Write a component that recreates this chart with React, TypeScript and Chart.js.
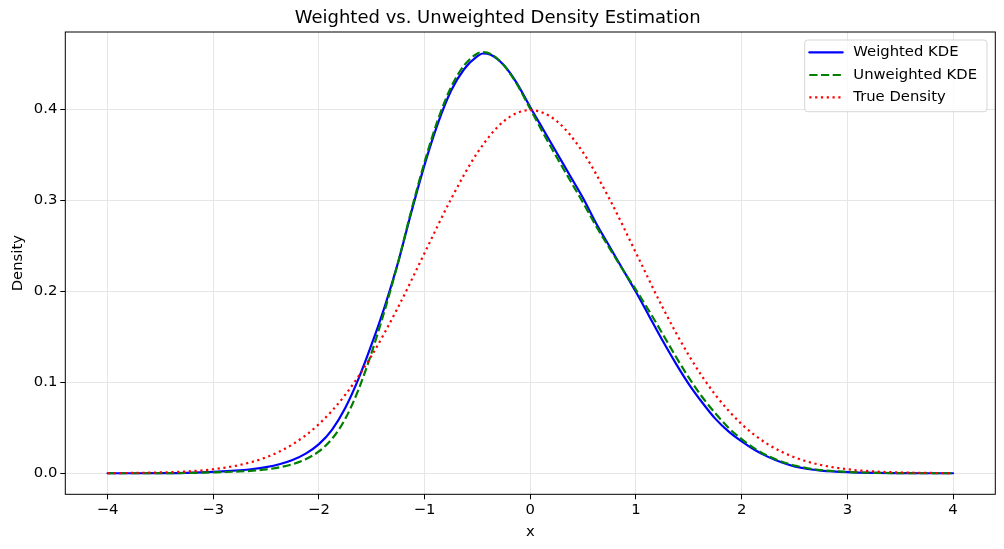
import React, { useEffect, useRef } from "react";
import { Chart, registerables } from "chart.js";

Chart.register(...registerables);

const chartTitle = "Weighted vs. Unweighted Density Estimation";
const xAxisLabel = "x";
const yAxisLabel = "Density";
const seriesLabels = ["Weighted KDE", "Unweighted KDE", "True Density"];

const xValues = [
  -4, -3.75, -3.5, -3.25, -3, -2.75, -2.5, -2.25, -2, -1.75, -1.5, -1.25, -1,
  -0.75, -0.5, -0.25, 0, 0.25, 0.5, 0.75, 1, 1.25, 1.5, 1.75, 2, 2.25, 2.5,
  2.75, 3, 3.25, 3.5, 3.75, 4,
];

const trueDensity = [
  0.0001, 0.0004, 0.0009, 0.002, 0.0044, 0.0091, 0.0175, 0.0317, 0.054,
  0.0863, 0.1295, 0.1826, 0.242, 0.3011, 0.3521, 0.3867, 0.3989, 0.3867,
  0.3521, 0.3011, 0.242, 0.1826, 0.1295, 0.0863, 0.054, 0.0317, 0.0175,
  0.0091, 0.0044, 0.002, 0.0009, 0.0004, 0.0001,
];

const kdeXValues = [
  -4, -3.75, -3.5, -3.25, -3, -2.75,
  -2.625, -2.5, -2.375, -2.25, -2.125, -2, -1.875, -1.75, -1.625, -1.5, -1.375,
  -1.25, -1.125, -1, -0.875, -0.75, -0.625, -0.5,
  -0.45,
  -0.375, -0.25, -0.125, 0, 0.125, 0.25, 0.375, 0.5, 0.625, 0.75, 0.875, 1,
  1.125, 1.25, 1.375, 1.5, 1.625, 1.75, 1.875, 2, 2.125, 2.25, 2.375, 2.5,
  2.625, 2.75,
  3, 3.25, 3.5, 3.75, 4,
];

const weightedKde = [
  0.0, 0.0, 0.0001, 0.0005, 0.0015, 0.0033,
  0.0047, 0.0068, 0.0099, 0.0146, 0.0216, 0.032, 0.048, 0.072, 0.104, 0.142,
  0.184, 0.232, 0.287, 0.339, 0.384, 0.42, 0.444, 0.458,
  0.461,
  0.4595, 0.448, 0.428, 0.402, 0.377, 0.352, 0.327, 0.302, 0.274, 0.249,
  0.224, 0.199, 0.1725, 0.146, 0.121, 0.098, 0.078, 0.06, 0.046, 0.035,
  0.0255, 0.018, 0.012, 0.0075, 0.0047, 0.003,
  0.0012, 0.0004, 0.0001, 0.0, 0.0,
];

const unweightedKde = [
  0.0, 0.0, 0.0001, 0.0003, 0.001, 0.002,
  0.0028, 0.0042, 0.0065, 0.01, 0.0155, 0.024, 0.038, 0.06, 0.092, 0.133,
  0.18, 0.232, 0.289, 0.342, 0.388, 0.424, 0.448, 0.461,
  0.4625,
  0.4605, 0.448, 0.427, 0.4, 0.373, 0.347, 0.322, 0.297, 0.271, 0.247,
  0.2235, 0.2015, 0.178, 0.1535, 0.1285, 0.105, 0.084, 0.066, 0.05, 0.0375,
  0.027, 0.019, 0.013, 0.0085, 0.0055, 0.0035,
  0.0014, 0.0005, 0.0001, 0.0, 0.0,
];

const xTickValues = [-4, -3, -2, -1, 0, 1, 2, 3, 4];
const yTickValues = [0, 0.1, 0.2, 0.3, 0.4];

const FONT = "'DejaVu Sans', sans-serif";

const fmtX = (v: number) => (v < 0 ? "\u2212" + Math.abs(v) : String(v));
const fmtY = (v: number) => v.toFixed(1);

const framePlugin = {
  id: "frameAndLegend",
  afterDatasetsDraw(chart: any) {
    const { ctx, chartArea } = chart;
    const { left, right, top, bottom } = chartArea;
    ctx.save();
    ctx.strokeStyle = "#000";
    ctx.lineWidth = 1;
    ctx.strokeRect(left, top, right - left, bottom - top);

    const w = 182.3;
    const h = 71.7;
    const bx = right - 8.3 - w;
    const by = top + 8;
    const r = 3;
    ctx.beginPath();
    ctx.moveTo(bx + r, by);
    ctx.lineTo(bx + w - r, by);
    ctx.arcTo(bx + w, by, bx + w, by + r, r);
    ctx.lineTo(bx + w, by + h - r);
    ctx.arcTo(bx + w, by + h, bx + w - r, by + h, r);
    ctx.lineTo(bx + r, by + h);
    ctx.arcTo(bx, by + h, bx, by + h - r, r);
    ctx.lineTo(bx, by + r);
    ctx.arcTo(bx, by, bx + r, by, r);
    ctx.closePath();
    ctx.fillStyle = "rgba(255,255,255,0.8)";
    ctx.fill();
    ctx.strokeStyle = "rgba(204,204,204,0.8)";
    ctx.lineWidth = 1;
    ctx.stroke();

    const rowOffsets = [12.3, 35, 57.3];
    chart.data.datasets.forEach((ds: any, i: number) => {
      const y = by + rowOffsets[i];
      ctx.beginPath();
      ctx.setLineDash(ds.borderDash || []);
      ctx.lineCap = ds.borderCapStyle || "butt";
      ctx.strokeStyle = ds.borderColor;
      ctx.lineWidth = ds.borderWidth;
      ctx.moveTo(bx + 4.6, y);
      ctx.lineTo(bx + 38, y);
      ctx.stroke();
      ctx.setLineDash([]);
      ctx.fillStyle = "#000";
      ctx.font = `14.8px ${FONT}`;
      ctx.textBaseline = "middle";
      ctx.textAlign = "left";
      ctx.fillText(ds.label, bx + 48.6, y);
    });
    ctx.restore();
  },
};

export default function App() {
  const ref = useRef<HTMLCanvasElement | null>(null);

  useEffect(() => {
    document.body.style.margin = "0";
    const canvas = ref.current;
    if (!canvas) return;
    const toPts = (xs: number[], ys: number[]) =>
      xs.map((x, i) => ({ x, y: ys[i] }));

    const chart = new Chart(canvas, {
      type: "line",
      data: {
        datasets: [
          {
            label: seriesLabels[0],
            data: toPts(kdeXValues, weightedKde),
            borderColor: "#0000ff",
            borderWidth: 2.2,
            borderCapStyle: "round",
            borderJoinStyle: "round",
            pointRadius: 0,
            cubicInterpolationMode: "monotone",
            fill: false,
            order: 2,
          },
          {
            label: seriesLabels[1],
            data: toPts(kdeXValues, unweightedKde),
            borderColor: "#008000",
            borderWidth: 2.2,
            borderDash: [8.2, 3.5],
            borderCapStyle: "butt",
            pointRadius: 0,
            cubicInterpolationMode: "monotone",
            fill: false,
            order: 1,
          },
          {
            label: seriesLabels[2],
            data: toPts(xValues, trueDensity),
            borderColor: "#ff0000",
            borderWidth: 2.2,
            borderDash: [2.2, 3.6],
            borderCapStyle: "butt",
            pointRadius: 0,
            cubicInterpolationMode: "monotone",
            fill: false,
            order: 0,
          },
        ],
      },
      options: {
        animation: false,
        responsive: false,
        devicePixelRatio: 1,
        layout: { padding: { left: 0, right: 8.7, top: 0, bottom: 0 } },
        plugins: {
          legend: { display: false },
          tooltip: { enabled: false },
          title: {
            display: true,
            text: chartTitle,
            color: "#000",
            font: { family: FONT, size: 18, weight: "normal", lineHeight: 1.2 },
            padding: { top: 8, bottom: 2.4 },
          },
        },
        scales: {
          x: {
            type: "linear",
            min: -4.4,
            max: 4.4,
            afterBuildTicks: (scale: any) => {
              scale.ticks = xTickValues.map((v) => ({ value: v }));
            },
            afterFit: (scale: any) => {
              scale.height = 54.7;
            },
            ticks: {
              color: "#000",
              font: { family: FONT, size: 14.8 },
              padding: 2,
              maxRotation: 0,
              autoSkip: false,
              callback: (v: any) => fmtX(Number(v)),
            },
            grid: {
              color: "#e6e6e6",
              lineWidth: 1,
              tickColor: "#000",
              tickLength: 5,
              tickWidth: 1,
            },
            border: { display: false },
            title: {
              display: true,
              text: xAxisLabel,
              color: "#000",
              font: { family: FONT, size: 14.8, lineHeight: 1.2 },
              padding: { top: 0, bottom: 8 },
            },
          },
          y: {
            type: "linear",
            min: -0.0231,
            max: 0.4846,
            afterBuildTicks: (scale: any) => {
              scale.ticks = yTickValues.map((v) => ({ value: v }));
            },
            afterFit: (scale: any) => {
              scale.width = 65.3;
            },
            ticks: {
              color: "#000",
              font: { family: FONT, size: 14.8 },
              padding: 3,
              autoSkip: false,
              callback: (v: any) => fmtY(Number(v)),
            },
            grid: {
              color: "#e6e6e6",
              lineWidth: 1,
              tickColor: "#000",
              tickLength: 5,
              tickWidth: 1,
            },
            border: { display: false },
            title: {
              display: true,
              text: yAxisLabel,
              color: "#000",
              font: { family: FONT, size: 14.8, lineHeight: 1.2 },
              padding: { top: 9, bottom: 0 },
            },
          },
        },
      },
      plugins: [framePlugin],
    } as any);

    return () => chart.destroy();
  }, []);

  return (
    <div style={{ position: "fixed", left: 0, top: 0, width: 1004, height: 549 }}>
      <canvas ref={ref} width={1004} height={549} style={{ display: "block" }} />
    </div>
  );
}
